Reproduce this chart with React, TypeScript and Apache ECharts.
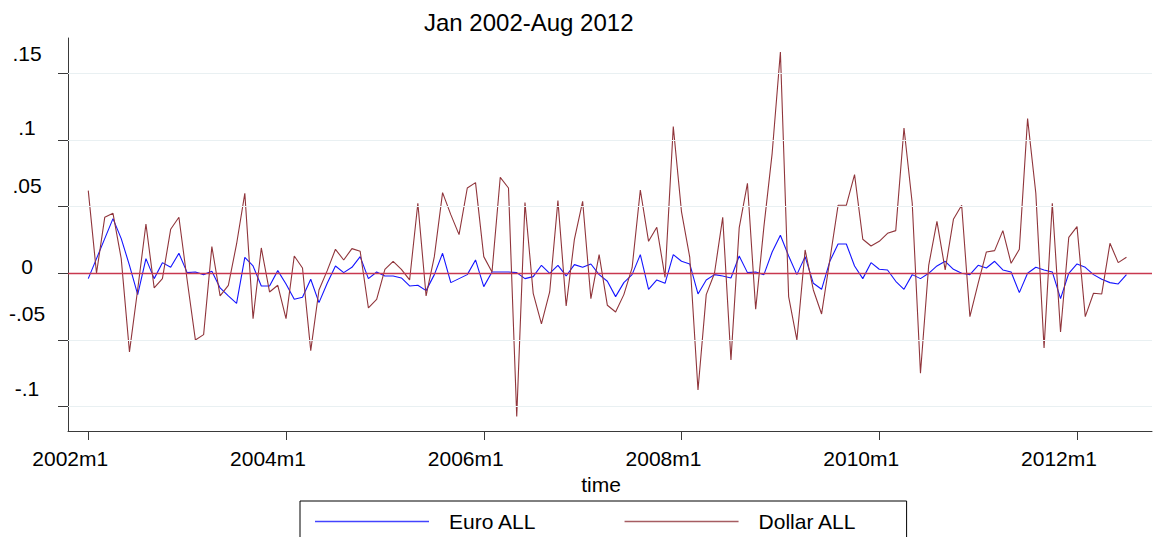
import React, { useEffect, useRef } from "react";
import * as echarts from "echarts";

// ---- data (monthly changes, 2002m1 .. 2012m7) ----
const TITLE = "Jan 2002-Aug 2012";
const X_NAME = "time";
const SERIES_NAMES = ["Euro ALL", "Dollar ALL"];

const EURO_ALL = [
  -0.004, 0.011, 0.026, 0.041, 0.026, 0.006, -0.016, 0.011, -0.004, 0.008, 0.0045, 0.015,
  0.0005, 0.001, -0.001, 0.0015, -0.011, -0.017, -0.0225, 0.012, 0.0055, -0.0095, -0.0095, 0.002,
  -0.008, -0.0195, -0.018, -0.0045, -0.022, -0.0075, 0.0055, 0.0005, 0.0045, 0.0125, -0.004, 0.001,
  -0.002, -0.002, -0.0035, -0.0095, -0.009, -0.013, -0.001, 0.015, -0.007, -0.004, -0.001, 0.01,
  -0.01, 0.001, 0.001, 0.001, 0.0005, -0.004, -0.0025, 0.006, 0.0, 0.006, -0.002, 0.0065,
  0.0045, 0.007, -0.001, -0.006, -0.0175, -0.007, -0.001, 0.014, -0.012, -0.005, -0.0075, 0.014,
  0.009, 0.007, -0.0155, -0.005, -0.001, -0.002, -0.0035, 0.013, 0.0005, 0.001, -0.001, 0.016,
  0.0285, 0.013, -0.001, 0.0125, -0.0075, -0.012, 0.009, 0.022, 0.022, 0.0055, -0.004, 0.008,
  0.003, 0.0025, -0.006, -0.012, -0.001, -0.004, 0.0, 0.0055, 0.009, 0.003, 0.0, -0.001,
  0.006, 0.004, 0.009, 0.0025, 0.001, -0.0145, 0.0, 0.0045, 0.0025, 0.001, -0.019, 0.0,
  0.007, 0.0045, -0.001, -0.0045, -0.007, -0.008, -0.001,
];

const DOLLAR_ALL = [
  0.062, 0.0, 0.042, 0.045, 0.011, -0.059, -0.012, 0.037, -0.011, -0.004, 0.033, 0.042,
  -0.005, -0.05, -0.046, 0.02, -0.017, -0.009, 0.022, 0.06, -0.034, 0.019, -0.014, -0.009,
  -0.034, 0.013, 0.004, -0.058, -0.0125, 0.002, 0.018, 0.01, 0.0185, 0.0165, -0.026, -0.0195,
  0.003, 0.009, 0.003, -0.005, 0.0525, -0.017, 0.0125, 0.0605, 0.044, 0.029, 0.064, 0.068,
  0.0125, 0.001, 0.072, 0.064, -0.1075, 0.053, -0.015, -0.038, -0.014, 0.0545, -0.0245, 0.0255,
  0.054, -0.019, 0.014, -0.024, -0.029, -0.016, 0.004, 0.0625, 0.024, 0.0345, -0.003, 0.11,
  0.046, 0.012, -0.0875, -0.016, 0.0, 0.042, -0.065, 0.034, 0.0675, -0.027, 0.035, 0.09,
  0.166, -0.0175, -0.05, 0.0175, -0.0125, -0.0305, 0.01, 0.051, 0.051, 0.074, 0.0255, 0.0205,
  0.024, 0.03, 0.032, 0.109, 0.0525, -0.075, 0.006, 0.039, 0.0025, 0.0405, 0.051, -0.0325,
  -0.0075, 0.016, 0.017, 0.032, 0.0075, 0.018, 0.116, 0.06, -0.056, 0.0525, -0.044, 0.027,
  0.035, -0.0325, -0.015, -0.0155, 0.0225, 0.008, 0.012,
];

// month index 0 = 2002m1
const X_TICKS = [0, 24, 48, 72, 96, 120];
const X_TICK_LABELS = ["2002m1", "2004m1", "2006m1", "2008m1", "2010m1", "2012m1"];
const Y_TICKS = [0.15, 0.1, 0.05, 0, -0.05, -0.1];
const Y_TICK_LABELS = [".15", ".1", ".05", "0", "-.05", "-.1"];

// ---- style ----
const Y_LABEL_LIFT = [20, 12, 21, 6.5, 26, 18];
const FONT = "'Liberation Sans', Arial, Helvetica, sans-serif";
const EURO_COLOR = "#1414ff";
const DOLLAR_COLOR = "#90353b";
const SERIES_COLORS = [EURO_COLOR, DOLLAR_COLOR];
const ZERO_COLOR = "#c8384f";
const GRID_COLOR = "#e9f0f2";
const AXIS_COLOR = "#3a3a3a";

export default function App() {
  const ref = useRef<HTMLDivElement>(null);

  useEffect(() => {
    if (!ref.current) return;
    const chart = echarts.init(ref.current, null, { renderer: "svg" });

    const yRich: Record<string, any> = {};
    Y_LABEL_LIFT.forEach((lift, i) => {
      yRich["y" + i] = {
        fontSize: 21,
        fontFamily: FONT,
        color: "#000",
        lineHeight: 21,
        padding: [0, 0, lift * 2, 0],
      };
    });

    const findIdx = (arr: number[], v: number) =>
      arr.findIndex((t) => Math.abs(t - v) < 1e-9);

    const toPairs = (arr: number[]) => arr.map((v, i) => [i, v]);

    chart.setOption({
      animation: false,
      backgroundColor: "#ffffff",
      title: {
        text: TITLE,
        left: 424,
        top: 10,
        padding: 0,
        textStyle: {
          fontSize: 24,
          fontWeight: "normal",
          fontFamily: FONT,
          color: "#000",
        },
      },
      legend: {
        data: SERIES_NAMES.map((name, i) => ({
          name,
          icon: "rect",
          itemStyle: { color: SERIES_COLORS[i], borderWidth: 0, opacity: 0.8 },
        })),
        left: 300,
        top: 501,
        padding: [10, 50, 30, 15],
        itemWidth: 114,
        itemHeight: 1.4,
        itemGap: 88,
        borderColor: "#000",
        borderWidth: 1,
        borderRadius: 0,
        formatter: (name: string) => `{t|${name}}`,
        textStyle: {
          fontSize: 21,
          fontFamily: FONT,
          color: "#000",
          rich: {
            t: {
              fontSize: 21,
              fontFamily: FONT,
              color: "#000",
              lineHeight: 21,
              padding: [0, 0, 0, 15],
            },
          },
        },
      },
      grid: {
        left: 68,
        right: 7,
        top: 38,
        bottom: 106,
        containLabel: false,
      },
      xAxis: {
        type: "value",
        min: -2.46,
        max: 129.1,
        name: X_NAME,
        nameLocation: "middle",
        nameGap: 39,
        nameTextStyle: {
          fontSize: 21,
          fontFamily: FONT,
          color: "#000",
          lineHeight: 21,
          padding: [0, 18, 0, 0],
        },
        axisLine: { show: true, onZero: false, lineStyle: { color: AXIS_COLOR, width: 1 } },
        axisTick: {
          show: true,
          length: 9,
          customValues: X_TICKS,
          lineStyle: { color: AXIS_COLOR, width: 1 },
        },
        axisLabel: {
          customValues: X_TICKS,
          margin: 17,
          formatter: (v: number) => `{x|${X_TICK_LABELS[findIdx(X_TICKS, v)] ?? ""}}`,
          rich: {
            x: {
              fontSize: 21,
              fontFamily: FONT,
              color: "#000",
              lineHeight: 21,
              padding: [0, 36, 0, 0],
            },
          },
        },
        splitLine: { show: false },
      },
      yAxis: {
        type: "value",
        min: -0.1183,
        max: 0.1765,
        axisLine: { show: true, onZero: false, lineStyle: { color: AXIS_COLOR, width: 1 } },
        axisTick: {
          show: true,
          length: 10,
          customValues: Y_TICKS,
          lineStyle: { color: AXIS_COLOR, width: 1 },
        },
        axisLabel: {
          customValues: Y_TICKS,
          align: "center",
          margin: 41,
          formatter: (v: number) => {
            const i = findIdx(Y_TICKS, v);
            return i < 0 ? "" : `{y${i}|${Y_TICK_LABELS[i]}}`;
          },
          rich: yRich,
        },
        splitLine: { show: false },
      },
      series: [
        {
          name: "gridlines",
          type: "line",
          data: [],
          z: 1,
          silent: true,
          markLine: {
            silent: true,
            symbol: ["none", "none"],
            label: { show: false },
            lineStyle: { color: GRID_COLOR, width: 1, type: "solid" },
            data: Y_TICKS.filter((t) => t !== 0).map((t) => ({ yAxis: t })),
          },
        },
        {
          name: SERIES_NAMES[0],
          type: "line",
          data: toPairs(EURO_ALL),
          symbol: "none",
          z: 3,
          color: EURO_COLOR,
          lineStyle: { color: EURO_COLOR, width: 1.1 },
          itemStyle: { color: EURO_COLOR },
        },
        {
          name: SERIES_NAMES[1],
          type: "line",
          data: toPairs(DOLLAR_ALL),
          symbol: "none",
          z: 4,
          color: DOLLAR_COLOR,
          lineStyle: { color: DOLLAR_COLOR, width: 1.1 },
          itemStyle: { color: DOLLAR_COLOR },
        },
        {
          name: "zeroline",
          type: "line",
          data: [],
          z: 5,
          silent: true,
          markLine: {
            silent: true,
            symbol: ["none", "none"],
            label: { show: false },
            lineStyle: { color: ZERO_COLOR, width: 1.3, type: "solid" },
            data: [{ yAxis: 0 }],
          },
        },
      ],
    });

    return () => chart.dispose();
  }, []);

  return (
    <div
      ref={ref}
      style={{
        position: "fixed",
        left: 0,
        top: 0,
        width: 1159,
        height: 537,
        background: "#ffffff",
      }}
    />
  );
}
